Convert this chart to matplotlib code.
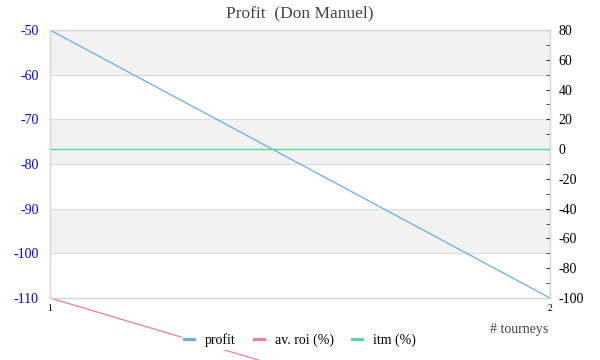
import matplotlib.pyplot as plt
from matplotlib.ticker import MultipleLocator

plt.rcParams["axes.unicode_minus"] = False

# data
tourneys = [1, 2]
profit = [-50, -110]
roi = [-100, -200]
itm = [0, 0]

fig = plt.figure(figsize=(6, 3.6), dpi=100)
ax = fig.add_axes([50 / 600, 62 / 360, 500 / 600, 268 / 360])
ax2 = ax.twinx()

# alternating bands + grid
for i, top in enumerate(range(-50, -110, -10)):
    if i % 2 == 0:
        ax.axhspan(top - 10, top, color="#f2f2f2", zorder=0, lw=0)
for y in range(-100, -50, 10):
    ax.axhline(y, color="#dddddd", lw=0.8, zorder=1)

l_profit, = ax.plot(tourneys, profit, color="#6aaef0", lw=0.9, zorder=3, label="profit")
l_roi, = ax2.plot(tourneys, roi, color="#f27aa8", lw=0.9, clip_on=False, label="av. roi (%)")
l_itm, = ax2.plot(tourneys, itm, color="#4fdc9c", lw=1.0, label="itm (%)")

ax.set_xlim(1, 2)
ax.set_ylim(-110, -50)
ax2.set_ylim(-100, 80)

for a in (ax, ax2):
    for s in a.spines.values():
        s.set_color("#d8d8d8")
        s.set_linewidth(0.9)

ax.set_xticks([1, 2])
ax.tick_params(axis="x", length=0, labelsize=7, pad=4)
ax.set_yticks(range(-110, -49, 10))
ax.tick_params(axis="y", length=0, labelsize=10, labelcolor="#0000ff", pad=8)
for t in ax.get_yticklabels() + ax.get_xticklabels():
    t.set_fontfamily("Liberation Serif")

ax2.yaxis.set_major_locator(MultipleLocator(20))
ax2.yaxis.set_minor_locator(MultipleLocator(10))
ax2.tick_params(axis="y", which="both", direction="in", length=3, color="#333333", labelsize=10, pad=6)
for t in ax2.get_yticklabels():
    t.set_fontfamily("Liberation Serif")

ax.set_title("Profit  (Don Manuel)", fontsize=12.5, color="#444444",
             fontfamily="Liberation Serif", pad=9)
fig.text(548 / 600, 1 - 330 / 360, "# tourneys", ha="right", va="center",
         fontsize=10, color="#444444", fontfamily="Liberation Serif")

handles = [l_profit, l_roi, l_itm]
leg = fig.legend(handles=handles, labels=[h.get_label() for h in handles],
                 loc="center", bbox_to_anchor=(300 / 600, 1 - 340 / 360), ncol=3,
                 frameon=True, facecolor="white", edgecolor="none", framealpha=1,
                 handlelength=0.7, handletextpad=0.8, columnspacing=1.3,
                 prop={"family": "Liberation Serif", "size": 10}, borderpad=0.2)
for h in leg.legend_handles:
    h.set_linewidth(2.2)
leg.set_zorder(10)

fig.savefig("out.png", dpi=100)
